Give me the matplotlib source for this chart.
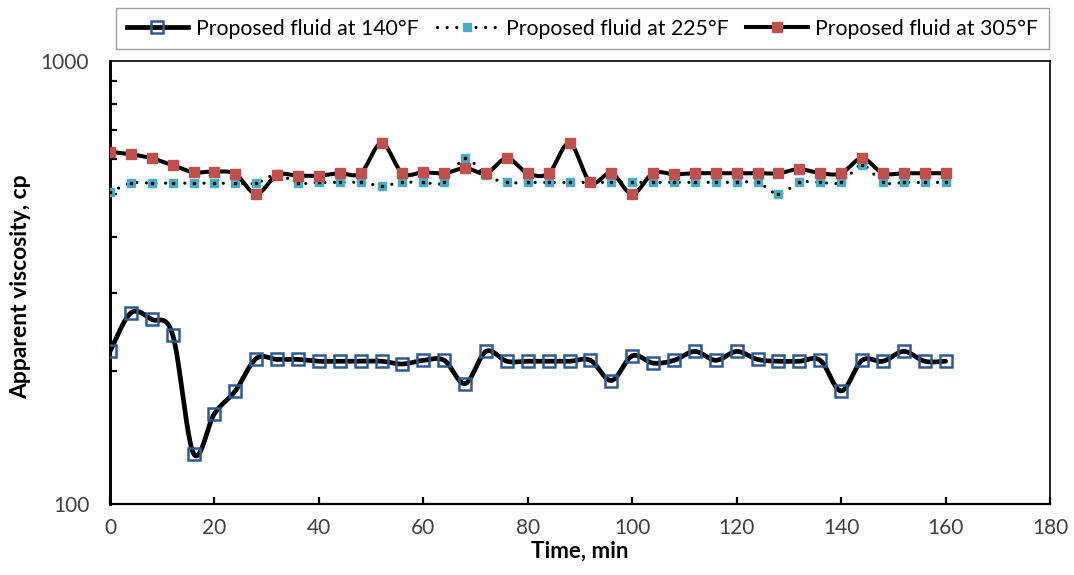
import numpy as np
import matplotlib
matplotlib.use("Agg")
import matplotlib.pyplot as plt
from matplotlib.lines import Line2D

plt.rcParams['font.family'] = ['Lato', 'DejaVu Sans']

# readings every 4 min
time_min = list(range(0, 161, 4))
visc_140 = [221, 270, 261, 241, 130, 160, 180, 213, 212, 212, 210, 210, 210, 210, 207, 211,
            211, 187, 221, 210, 210, 210, 210, 211, 190, 216, 208, 211, 221, 211, 221, 212,
            210, 210, 211, 180, 211, 210, 221, 210, 210]
visc_225 = [505, 530, 530, 530, 530, 530, 530, 530, 555, 530, 532, 532, 532, 523, 532, 532,
            532, 603, 552, 532, 532, 532, 532, 532, 532, 532, 532, 532, 532, 532, 532, 532,
            501, 532, 532, 532, 582, 532, 532, 532, 532]
visc_305 = [624, 616, 603, 582, 561, 563, 556, 501, 553, 551, 551, 558, 558, 652, 558, 561,
            558, 573, 558, 603, 558, 558, 652, 532, 558, 501, 558, 555, 558, 558, 558, 558,
            558, 570, 558, 558, 603, 558, 558, 558, 558]
labels = ["Proposed fluid at 140°F", "Proposed fluid at 225°F", "Proposed fluid at 305°F"]

BLUE = "#2F5A8F"
CYAN = "#4BACC6"
RED = "#C0504D"


def smooth(x, y, n=24):
    """Bezier smoothing like a spreadsheet 'smoothed line' (done in log-y)."""
    x = np.asarray(x, float)
    y = np.log10(np.asarray(y, float))
    xs, ys = [], []
    m = len(x)
    for i in range(m - 1):
        i0, i3 = max(i - 1, 0), min(i + 2, m - 1)
        p0 = np.array([x[i0], y[i0]]); p1 = np.array([x[i], y[i]])
        p2 = np.array([x[i + 1], y[i + 1]]); p3 = np.array([x[i3], y[i3]])
        c1 = p1 + (p2 - p0) / 6.0
        c2 = p2 - (p3 - p1) / 6.0
        s = np.linspace(0, 1, n, endpoint=(i == m - 2))[:, None]
        pts = ((1 - s) ** 3) * p1 + 3 * ((1 - s) ** 2) * s * c1 + 3 * (1 - s) * s ** 2 * c2 + s ** 3 * p2
        xs.append(pts[:, 0]); ys.append(pts[:, 1])
    return np.concatenate(xs), 10 ** np.concatenate(ys)


fig = plt.figure(figsize=(10.74, 5.75), dpi=100)
ax = fig.add_axes([0.1024, 0.1235, 0.8753, 0.7704])

# 140 °F
sx, sy = smooth(time_min, visc_140)
ax.plot(sx, sy, color="black", lw=3.4, solid_capstyle="round", zorder=2)
ax.plot(time_min, visc_140, ls="none", marker="s", ms=8, mfc="none", mec=BLUE, mew=1.8, zorder=3)

# 225 °F
sx, sy = smooth(time_min, visc_225)
ax.plot(sx, sy, color="black", lw=2.3, ls=(0, (0.01, 3.0)), dash_capstyle="round", zorder=4)
ax.plot(time_min, visc_225, ls="none", marker="s", ms=5.5, mfc=CYAN, mec=CYAN, zorder=5)
ax.plot(time_min, visc_225, ls="none", marker="s", ms=1.6, mfc="black", mec="black", zorder=5)

# 305 °F
sx, sy = smooth(time_min, visc_305)
ax.plot(sx, sy, color="black", lw=2.9, solid_capstyle="round", zorder=6)
ax.plot(time_min, visc_305, ls="none", marker="s", ms=7.5, mfc=RED, mec=RED, zorder=7)

ax.set_yscale("log")
ax.set_ylim(100, 1000)
ax.set_xlim(0, 180)
ax.set_xticks(range(0, 181, 20))
ax.set_yticks([100, 1000])
ax.set_yticklabels(["100", "1000"])
ax.set_yticks([200, 300, 400, 500, 600, 700, 800, 900], minor=True)
ax.yaxis.set_minor_formatter(matplotlib.ticker.NullFormatter())
ax.tick_params(axis="both", which="both", direction="in", length=5, width=1.6,
               labelsize=15, labelcolor="#404040")
ax.tick_params(axis="x", which="major", pad=10)
ax.tick_params(axis="y", which="major", length=0, pad=15)
ax.tick_params(axis="x", which="minor", bottom=False)

ax.spines["left"].set_linewidth(2.1)
ax.spines["bottom"].set_linewidth(1.6)
ax.spines["top"].set_linewidth(1.2)
ax.spines["right"].set_linewidth(1.2)

ax.set_xlabel("Time, min", fontsize=16, fontweight="bold", labelpad=2)
ax.set_ylabel("Apparent viscosity, cp", fontsize=16.5, fontweight="bold")
ax.yaxis.set_label_coords(-0.084, 0.49)

handles = [
    Line2D([], [], color="black", lw=3.4, marker="s", ms=8, mfc="none", mec=BLUE, mew=1.8),
    Line2D([], [], color="black", lw=2.3, ls=(0, (0.01, 3.0)), dash_capstyle="round",
           marker="s", ms=5.5, mfc=CYAN, mec=CYAN),
    Line2D([], [], color="black", lw=2.9, marker="s", ms=7.5, mfc=RED, mec=RED),
]
leg = fig.legend(handles, labels, ncol=3, loc="center", bbox_to_anchor=(0.5424, 0.950),
                 fontsize=15.3, frameon=True, fancybox=False, edgecolor="#888888",
                 handlelength=2.9, handletextpad=0.35, columnspacing=0.85,
                 borderpad=0.5, markerscale=1.0)
leg.get_frame().set_linewidth(1.0)

fig.savefig("out.png", dpi=100)
